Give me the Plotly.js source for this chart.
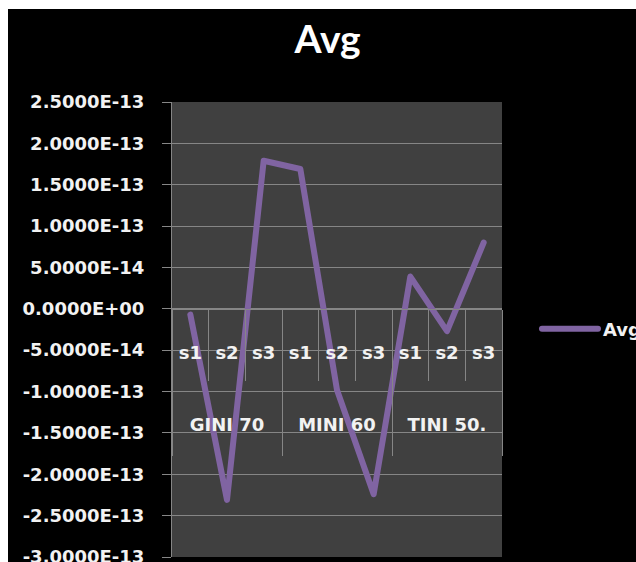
<!DOCTYPE html>
<html>
<head>
<meta charset="utf-8">
<script src="https://cdn.plot.ly/plotly-3.0.1.min.js"></script>
<style>
  html, body { margin: 0; padding: 0; background: #ffffff; overflow: hidden; }
  #chart { position: absolute; left: 8px; top: 9px; width: 628px; height: 553px; }
  .js-line { stroke-linejoin: round; stroke-linecap: round; }
</style>
</head>
<body>
<div id="chart"></div>
<script>
// Series groups and the sub-categories inside each group
const groups = ['GINI 70', 'MINI 60', 'TINI 50.'];
const subLabels = ['s1', 's2', 's3'];

// Average per sub-category, in group order
const avgValues = [-7e-15, -2.31e-13, 1.79e-13, 1.69e-13, -0.98e-13, -2.24e-13, 3.9e-14, -2.7e-14, 8.0e-14];

// Value axis ticks, written in scientific notation
const yTickVals = [-3e-13, -2.5e-13, -2e-13, -1.5e-13, -1e-13, -5e-14, 0, 5e-14, 1e-13, 1.5e-13, 2e-13, 2.5e-13];
const yTickText = ['-3.0000E-13', '-2.5000E-13', '-2.0000E-13', '-1.5000E-13', '-1.0000E-13', '-5.0000E-14',
                   '0.0000E+00', '5.0000E-14', '1.0000E-13', '1.5000E-13', '2.0000E-13', '2.5000E-13'];

// Category positions along the x axis
const nSub = subLabels.length;
const xPos = avgValues.map((v, i) => i);
const xSubText = groups.flatMap(() => subLabels);
const subBounds = [...xPos.map(i => i - 0.5), xPos.length - 0.5];
const groupCenters = groups.map((g, gi) => gi * nSub + (nSub - 1) / 2);
const groupBounds = [...groups.map((g, gi) => gi * nSub - 0.5), groups.length * nSub - 0.5];

const yRange = [yTickVals[0], yTickVals[yTickVals.length - 1]];
const xRange = [-0.5, xPos.length - 0.5];
// the category axis crosses the value axis at zero
const zeroFrac = (0 - yRange[0]) / (yRange[1] - yRange[0]);

const gridGray = '#868686';
const labelFont = { family: 'DejaVu Sans', size: 18, weight: 700, color: '#f2f2f2' };

// empty carrier so the group-level axis gets drawn
const groupAxisTrace = {
  x: groupCenters,
  y: groupCenters.map(() => null),
  xaxis: 'x2',
  yaxis: 'y',
  type: 'scatter',
  mode: 'lines',
  showlegend: false,
  hoverinfo: 'skip'
};

const avgTrace = {
  x: xPos,
  y: avgValues,
  type: 'scatter',
  mode: 'lines',
  name: 'Avg',
  line: { color: '#8064A2', width: 6 },
  hoverinfo: 'y'
};

const layout = {
  width: 628,
  height: 553,
  paper_bgcolor: '#000000',
  plot_bgcolor: '#404040',
  margin: { l: 164, r: 134, t: 93, b: 5, autoexpand: false },
  showlegend: true,
  title: {
    text: 'Avg',
    font: { family: 'Lato', size: 39, weight: 700, color: '#ffffff' },
    xref: 'container', x: 0.509, xanchor: 'center',
    yref: 'container', y: 0.946, yanchor: 'middle'
  },
  yaxis: {
    range: yRange,
    tickmode: 'array',
    tickvals: yTickVals,
    ticktext: yTickText,
    tickfont: labelFont,
    ticklabeloverflow: 'allow',
    ticks: 'outside', ticklen: 9, tickcolor: gridGray, tickwidth: 1,
    ticklabelstandoff: 14,
    showgrid: true, gridcolor: gridGray, gridwidth: 1,
    showline: true, linecolor: gridGray, linewidth: 1,
    zeroline: false,
    fixedrange: true
  },
  xaxis: {
    range: xRange,
    anchor: 'free', position: zeroFrac,
    tickmode: 'array',
    tickvals: xPos,
    ticktext: xSubText,
    tickfont: labelFont,
    ticks: '',
    ticklabelstandoff: 28,
    minor: { tickmode: 'array', tickvals: subBounds, ticks: 'outside', ticklen: 71, tickcolor: gridGray, tickwidth: 1, showgrid: false },
    showgrid: false, zeroline: false,
    showline: true, linecolor: gridGray, linewidth: 1,
    fixedrange: true
  },
  xaxis2: {
    overlaying: 'x',
    range: xRange,
    anchor: 'free', position: zeroFrac,
    tickmode: 'array',
    tickvals: groupCenters,
    ticktext: groups,
    tickfont: labelFont,
    ticks: '',
    ticklabelstandoff: 103,
    minor: { tickmode: 'array', tickvals: groupBounds, ticks: 'outside', ticklen: 146, tickcolor: gridGray, tickwidth: 1, showgrid: false },
    showgrid: false, zeroline: false, showline: false,
    fixedrange: true
  },
  legend: {
    x: 1.106, xanchor: 'left',
    y: 0.501, yanchor: 'middle',
    bgcolor: 'rgba(0,0,0,0)',
    font: labelFont,
    itemwidth: 56
  }
};

Plotly.newPlot('chart', [groupAxisTrace, avgTrace], layout, { displayModeBar: false, staticPlot: true });
</script>
</body>
</html>
